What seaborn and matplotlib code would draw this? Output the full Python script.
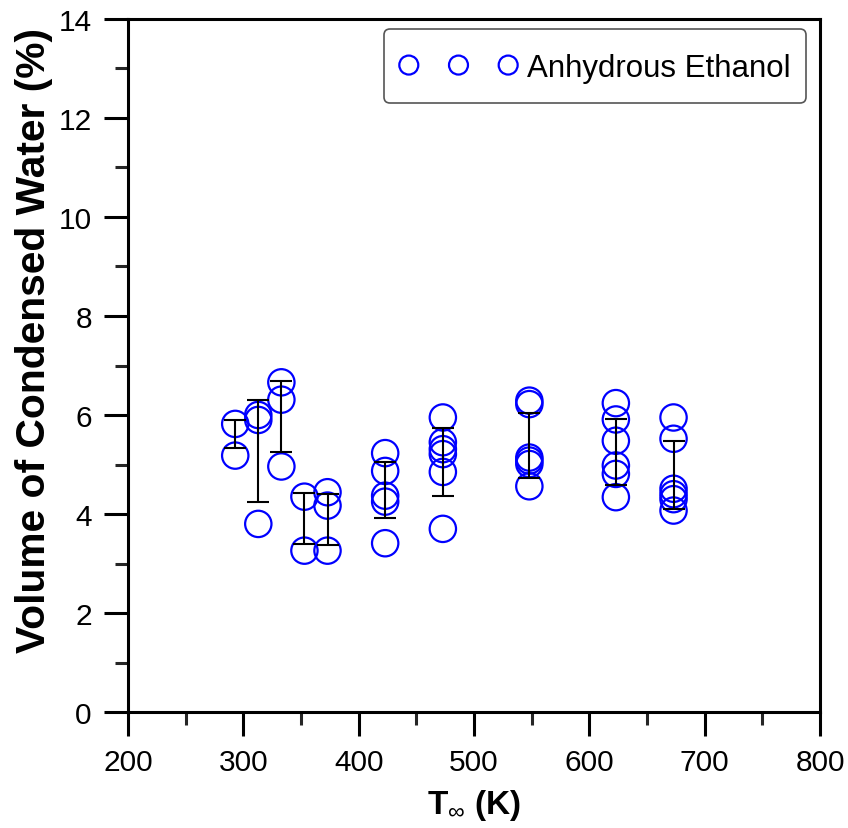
import numpy as np
import pandas as pd
import matplotlib
matplotlib.use("Agg")
import matplotlib.pyplot as plt
from matplotlib.ticker import MultipleLocator
import seaborn as sns

# ---- data ----
temps = [293, 293,
         313, 313, 313,
         333, 333, 333,
         353, 353,
         373, 373, 373,
         423, 423, 423, 423, 423,
         473, 473, 473, 473, 473, 473,
         548, 548, 548, 548, 548, 548,
         623, 623, 623, 623, 623, 623,
         673, 673, 673, 673, 673, 673]
water = [5.82, 5.18,
         6.00, 5.90, 3.80,
         6.66, 6.31, 4.96,
         4.35, 3.26,
         4.44, 4.17, 3.26,
         5.23, 4.87, 4.37, 4.25, 3.41,
         5.95, 5.45, 5.31, 5.21, 4.85, 3.70,
         6.29, 6.22, 5.14, 5.08, 5.01, 4.56,
         6.24, 5.91, 5.48, 4.98, 4.81, 4.34,
         5.95, 5.52, 4.51, 4.40, 4.30, 4.07]

group_temps = [293, 313, 333, 353, 373, 423, 473, 548, 623, 673]
group_mean = [5.615, 5.27, 5.97, 3.905, 3.885, 4.485, 5.05, 5.38, 5.255, 4.79]
group_sd = [0.285, 1.03, 0.72, 0.515, 0.515, 0.575, 0.68, 0.66, 0.665, 0.69]

series_label = "Anhydrous Ethanol"
x_ticks = [200, 300, 400, 500, 600, 700, 800]
y_ticks = [0, 2, 4, 6, 8, 10, 12, 14]

df = pd.DataFrame({"T": temps, "W": water})

sns.set_style("ticks")
plt.rcParams["font.family"] = ["Liberation Sans", "DejaVu Sans"]
plt.rcParams["mathtext.fontset"] = "custom"
plt.rcParams["mathtext.rm"] = "Liberation Sans"
plt.rcParams["mathtext.bf"] = "Liberation Sans:bold"
plt.rcParams["text.color"] = "black"
plt.rcParams["axes.labelcolor"] = "black"

fig = plt.figure(figsize=(8.48, 8.29), dpi=100)
ax = fig.add_axes([0.1509, 0.1399, 0.8161, 0.8360])

sns.scatterplot(data=df, x="T", y="W", ax=ax, marker="o", s=360,
                facecolor="none", edgecolor="#0000ff", linewidth=1.6,
                label=series_label, zorder=2)

ax.errorbar(group_temps, group_mean, yerr=group_sd, fmt="none",
            ecolor="black", elinewidth=1.5, capsize=8, capthick=1.5, zorder=3)

ax.set_xlim(200, 800)
ax.set_ylim(0, 14)
ax.set_xticks(x_ticks)
ax.set_yticks(y_ticks)
ax.xaxis.set_minor_locator(MultipleLocator(50))
ax.yaxis.set_minor_locator(MultipleLocator(1))

for sp in ax.spines.values():
    sp.set_linewidth(2.2)
    sp.set_color("black")

ax.tick_params(which="major", direction="out", length=17, width=2.2,
               pad=9, labelsize=21.5, colors="black")
ax.tick_params(which="minor", direction="out", length=9.5, width=2.2)
ax.tick_params(top=False, right=False, which="both")

ax.set_xlabel(r"T$_{\infty}$ (K)", fontsize=24, fontweight="bold",
              color="black", labelpad=8)
ax.set_ylabel("Volume of Condensed Water (%)", fontsize=29.3,
              fontweight="bold", color="black")
ax.yaxis.set_label_coords(-0.108, 0.538)

leg = ax.legend(loc="upper right", bbox_to_anchor=(0.980, 0.9856),
                borderaxespad=0, scatterpoints=3, scatteryoffsets=[0.26],
                markerscale=0.72, handlelength=3.78, handletextpad=0.3,
                handleheight=1.75, borderpad=0.5, fontsize=22.5,
                fancybox=True, framealpha=1, edgecolor="#555555")
leg.get_frame().set_linewidth(1.2)
for t in leg.get_texts():
    t.set_color("black")

fig.savefig("out.png", dpi=100)
